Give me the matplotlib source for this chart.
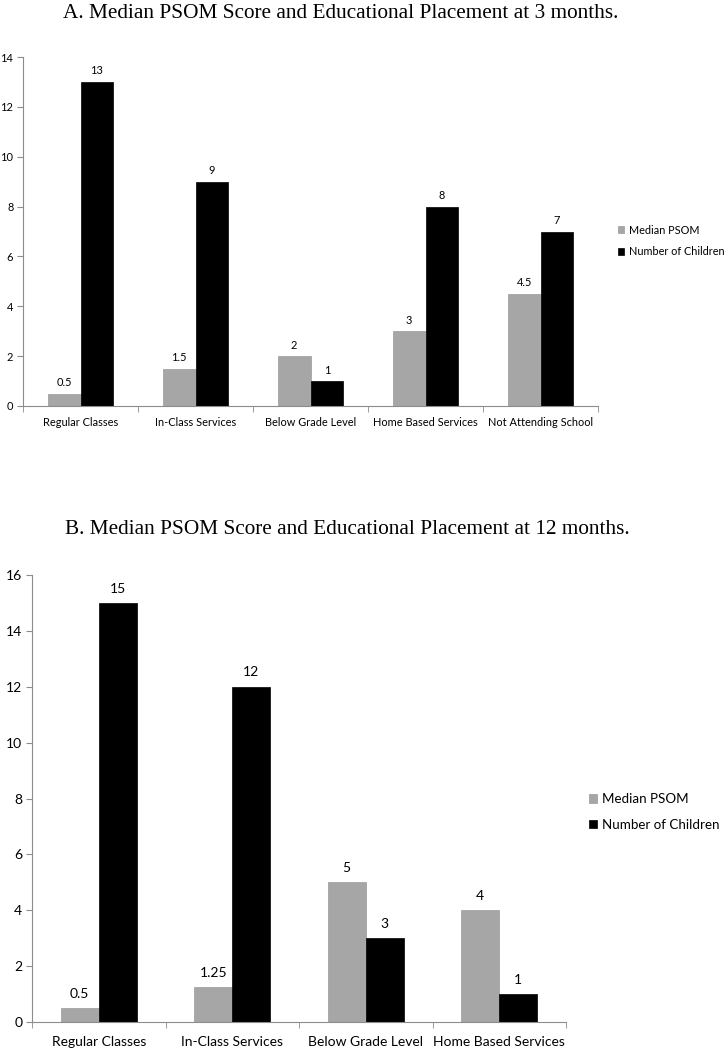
import numpy as np
import matplotlib.pyplot as plt

# Data
cats_3m = ["Regular Classes", "In-Class Services", "Below Grade Level",
           "Home Based Services", "Not Attending School"]
psom_3m = [0.5, 1.5, 2, 3, 4.5]
kids_3m = [13, 9, 1, 8, 7]

cats_12m = ["Regular Classes", "In-Class Services", "Below Grade Level",
            "Home Based Services"]
psom_12m = [0.5, 1.25, 5, 4]
kids_12m = [15, 12, 3, 1]

GRAY = "#a6a6a6"
AXIS = "#8c8c8c"
SANS = "Lato"
SERIF = "Liberation Serif"


def fmt(v):
    return ("%g" % v)


def draw_panel(ax, cats, psom, kids, ymax, fs, lab_off, bw=0.285):
    x = np.arange(len(cats))
    b1 = ax.bar(x - bw / 2, psom, bw, color=GRAY, edgecolor="#9a9a9a", linewidth=0.5,
                label="Median PSOM")
    b2 = ax.bar(x + bw / 2, kids, bw, color="black", edgecolor="black", linewidth=0.5,
                label="Number of Children")
    for bars, vals in ((b1, psom), (b2, kids)):
        for r, v in zip(bars, vals):
            ax.annotate(fmt(v), (r.get_x() + r.get_width() / 2, v),
                        xytext=(0, lab_off), textcoords="offset points",
                        ha="center", va="bottom", fontsize=fs, family=SANS)
    ax.set_xlim(-0.5, len(cats) - 0.5)
    ax.set_ylim(0, ymax)
    ax.set_yticks(np.arange(0, ymax + 1, 2))
    ax.set_xticks(x)
    ax.set_xticklabels(cats, fontsize=fs, family=SANS)
    ax.set_xticks(np.arange(-0.5, len(cats)), minor=True)
    ax.tick_params(axis="x", which="major", length=0, pad=fs * 1.0)
    ax.tick_params(axis="x", which="minor", length=4, color=AXIS, direction="out")
    ax.tick_params(axis="y", length=4, color=AXIS, direction="out", labelsize=fs, pad=3)
    for lab in ax.get_yticklabels():
        lab.set_family(SANS)
    for s in ("top", "right"):
        ax.spines[s].set_visible(False)
    for s in ("left", "bottom"):
        ax.spines[s].set_color(AXIS)
        ax.spines[s].set_linewidth(0.8)
    return b1, b2


fig = plt.figure(figsize=(7.26, 10.5), dpi=100)

# Panel A
ax1 = fig.add_axes([23 / 726, 1 - 406 / 1050, 575 / 726, 349 / 1050])
h = draw_panel(ax1, cats_3m, psom_3m, kids_3m, 14, 7.9, 4)
ax1.legend(handles=h, loc="center left", bbox_to_anchor=(608 / 726, 1 - 241 / 1050),
           bbox_transform=fig.transFigure, frameon=False, handlelength=0.6,
           handleheight=0.6, handletextpad=0.4, labelspacing=1.0,
           prop={"family": SANS, "size": 7.8})
fig.text(341 / 726, 1 - 13 / 1050, "A. Median PSOM Score and Educational Placement at 3 months.",
         ha="center", va="center", fontsize=15.3, family=SERIF)

# Panel B
ax2 = fig.add_axes([32 / 726, 1 - 1022 / 1050, 534 / 726, 447 / 1050])
h = draw_panel(ax2, cats_12m, psom_12m, kids_12m, 16, 10, 6)
ax2.legend(handles=h, loc="center left", bbox_to_anchor=(577 / 726, 1 - 812 / 1050),
           bbox_transform=fig.transFigure, frameon=False, handlelength=0.6,
           handleheight=0.6, handletextpad=0.4, labelspacing=1.0,
           prop={"family": SANS, "size": 9.6})
fig.text(347 / 726, 1 - 530 / 1050, "B. Median PSOM Score and Educational Placement at 12 months.",
         ha="center", va="center", fontsize=15.3, family=SERIF)

fig.savefig("out.png", dpi=100, facecolor="white")
